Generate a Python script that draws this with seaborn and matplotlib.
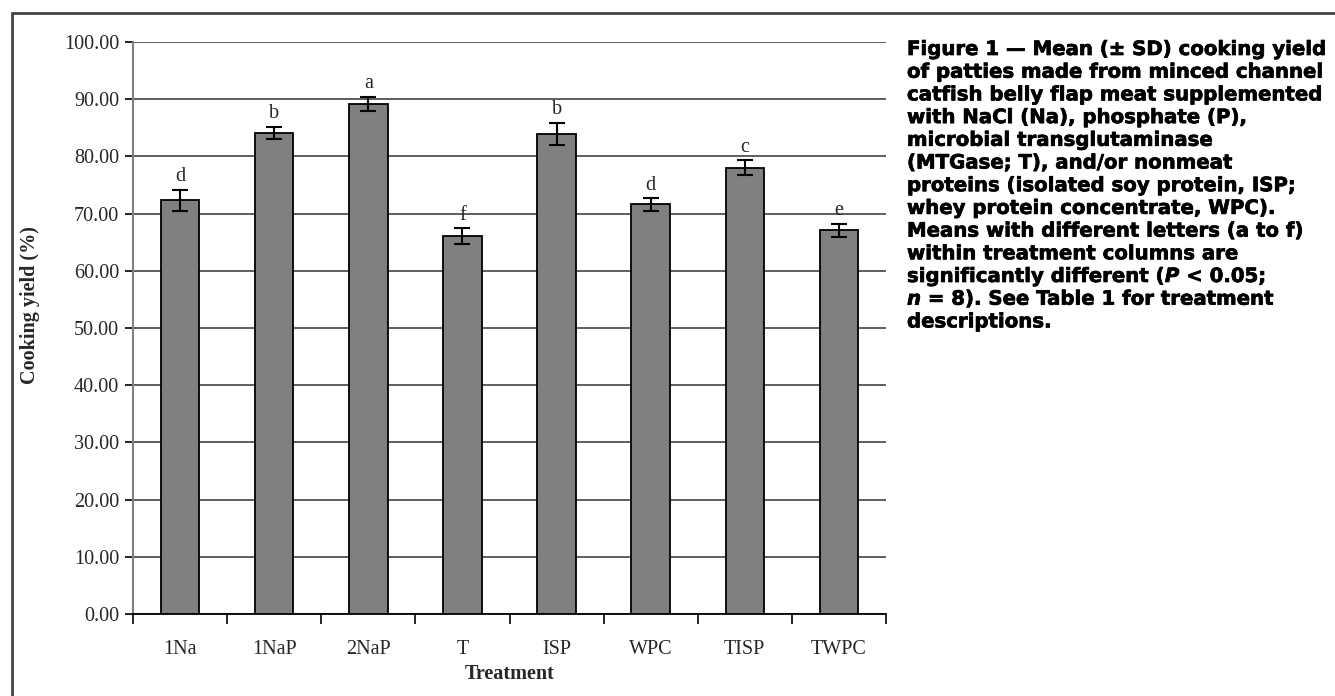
import matplotlib
matplotlib.use("Agg")
import matplotlib.pyplot as plt
import matplotlib.patheffects as pe
import seaborn as sns
import numpy as np
import pandas as pd

# Cooking yield data (mean ± SD, n = 8)
treatments = ["1Na", "1NaP", "2NaP", "T", "ISP", "WPC", "TISP", "TWPC"]
mean_yield = [72.3, 84.1, 89.2, 66.0, 83.9, 71.6, 78.0, 67.1]
sd_yield = [1.9, 1.1, 1.2, 1.4, 1.95, 1.1, 1.3, 1.15]
letters = ["d", "b", "a", "f", "b", "d", "c", "e"]
y_ticks = [0, 10, 20, 30, 40, 50, 60, 70, 80, 90, 100]

caption_lines = [
    [("Figure 1 \u2014 Mean (\u00b1 SD) cooking yield", "normal")],
    [("of patties made from minced channel", "normal")],
    [("catfish belly flap meat supplemented", "normal")],
    [("with NaCl (Na), phosphate (P),", "normal")],
    [("microbial transglutaminase", "normal")],
    [("(MTGase; T), and/or nonmeat", "normal")],
    [("proteins (isolated soy protein, ISP;", "normal")],
    [("whey protein concentrate, WPC).", "normal")],
    [("Means with different letters (a to f)", "normal")],
    [("within treatment columns are", "normal")],
    [("significantly different (", "normal"), ("P", "italic"), (" < 0.05;", "normal")],
    [("n", "italic"), (" = 8). See Table 1 for treatment", "normal")],
    [("descriptions.", "normal")],
]

df = pd.DataFrame({"Treatment": treatments, "Yield": mean_yield})

sns.set_theme(style="white")
plt.rcParams["font.family"] = ["Liberation Serif", "DejaVu Serif"]

W, H = 1335, 696
fig = plt.figure(figsize=(W / 100, H / 100), dpi=100)
ax = fig.add_axes([133 / W, 1 - 614 / H, (886 - 133) / W, (614 - 42) / H])

sns.barplot(data=df, x="Treatment", y="Yield", color="#808080", saturation=1,
            edgecolor="black", linewidth=1.3, width=0.41, ax=ax, zorder=3)
xs = np.arange(len(treatments))
ax.errorbar(xs, mean_yield, yerr=sd_yield, fmt="none", ecolor="black",
            elinewidth=1.5, capsize=5.5, capthick=1.5, zorder=4)

for x, m, s, lab in zip(xs, mean_yield, sd_yield, letters):
    ax.annotate(lab, (x, m + s), xytext=(0, 2.5), textcoords="offset points",
                ha="center", va="bottom", fontsize=14.5, zorder=5)

ax.set_ylim(0, 100)
ax.set_xlim(-0.5, len(treatments) - 0.5)
ax.set_yticks(y_ticks)
ax.set_yticklabels([f"{v:.2f}" for v in y_ticks], fontsize=14.5)
ax.yaxis.grid(True, color="#333333", linewidth=1.1, zorder=0)
ax.xaxis.grid(False)

ax.set_xticks(xs)
ax.set_xticklabels(treatments, fontsize=14.5)
ax.set_xticks(np.arange(-0.5, len(treatments), 1.0), minor=True)
ax.tick_params(axis="x", which="major", length=0, pad=19)
ax.tick_params(axis="x", which="minor", length=7, width=1.2, color="black", direction="out", bottom=True)
ax.tick_params(axis="y", which="major", length=6, width=1.2, color="black", direction="out", left=True, pad=4)

for side in ("top", "right"):
    ax.spines[side].set_visible(False)
ax.spines["left"].set_color("#808080")
ax.spines["left"].set_linewidth(1.5)
ax.spines["bottom"].set_color("black")
ax.spines["bottom"].set_linewidth(1.3)

ax.set_xlabel("Treatment", fontsize=14.5, fontweight="bold")
ax.set_ylabel("Cooking yield (%)", fontsize=14.5, fontweight="bold")
ax.xaxis.set_label_coords(0.5, (614 - 664) / 572)
ax.yaxis.set_label_coords((40 - 133) / 753, (614 - 305) / 572)

# Frame around the figure panel
fig.add_artist(plt.Line2D([12 / W, 12 / W], [0, 1 - 13 / H], transform=fig.transFigure,
                          color="#444444", linewidth=2))
fig.add_artist(plt.Line2D([12 / W, 1], [1 - 13 / H, 1 - 13 / H], transform=fig.transFigure,
                          color="#444444", linewidth=2))

# Caption, drawn segment by segment so italic symbols sit inline
fig.canvas.draw()
renderer = fig.canvas.get_renderer()
cap_font = dict(family=["DejaVu Sans"], fontweight="bold", fontsize=14.2)
heavy = [pe.withStroke(linewidth=0.5, foreground="black")]
x0 = 907
for i, line in enumerate(caption_lines):
    y = 55 + i * 22.7
    x = x0
    for txt, style in line:
        t = fig.text(x / W, 1 - y / H, txt, ha="left", va="baseline",
                     fontstyle=style, color="black", **cap_font)
        bb = t.get_window_extent(renderer=renderer)
        t.set_path_effects(heavy)
        x += bb.width

fig.savefig("out.png", dpi=100)
